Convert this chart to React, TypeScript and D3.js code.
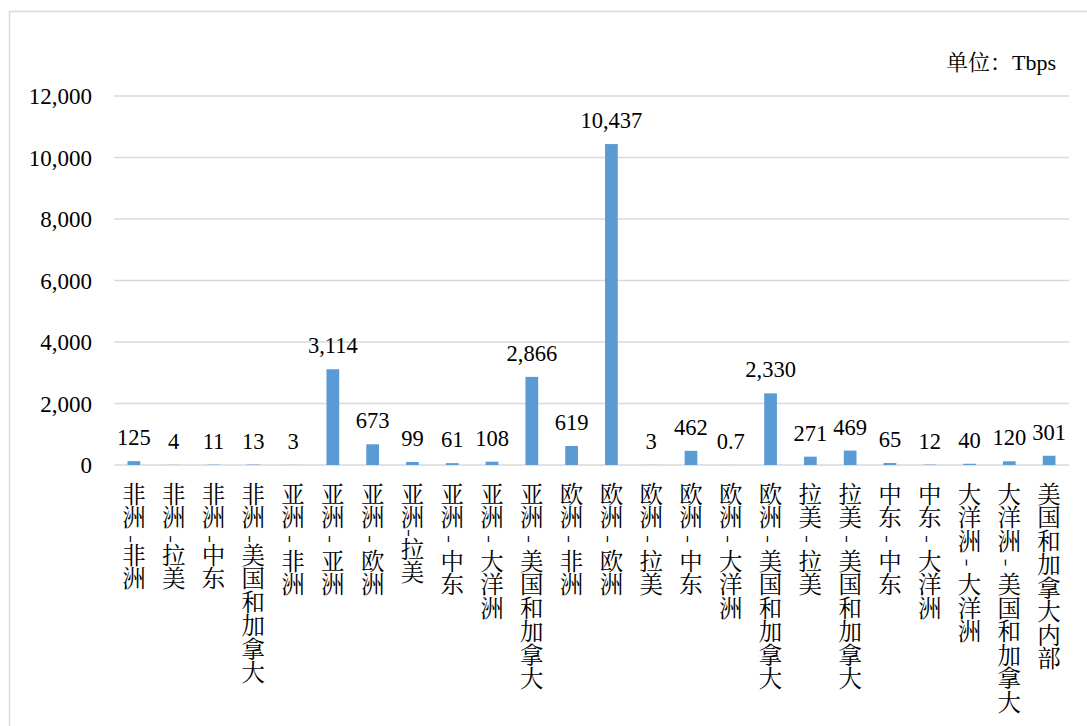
import React from "react";
import * as d3 from "d3";

const categories: string[] = [
  "非洲 -非洲", "非洲 -拉美", "非洲 -中东", "非洲 -美国和加拿大",
  "亚洲 - 非洲", "亚洲 - 亚洲", "亚洲 - 欧洲", "亚洲-拉美",
  "亚洲 - 中东", "亚洲 - 大洋洲", "亚洲 - 美国和加拿大", "欧洲 - 非洲",
  "欧洲 - 欧洲", "欧洲 - 拉美", "欧洲 - 中东", "欧洲 - 大洋洲",
  "欧洲 - 美国和加拿大", "拉美 - 拉美", "拉美 - 美国和加拿大", "中东 - 中东",
  "中东 - 大洋洲", "大洋洲 - 大洋洲", "大洋洲 - 美国和加拿大", "美国和加拿大内部",
];
const values: number[] = [
  125, 4, 11, 13, 3, 3114, 673, 99, 61, 108, 2866, 619,
  10437, 3, 462, 0.7, 2330, 271, 469, 65, 12, 40, 120, 301,
];
const valueLabels: string[] = [
  "125", "4", "11", "13", "3", "3,114", "673", "99", "61", "108", "2,866", "619",
  "10,437", "3", "462", "0.7", "2,330", "271", "469", "65", "12", "40", "120", "301",
];
const yTicks: number[] = [0, 2000, 4000, 6000, 8000, 10000, 12000];
const unitPrefix = "单位：";
const unitName = "Tbps";

const W = 1087;
const H = 726;
const left = 114;
const right = 1069;
const y0 = 465;
const yTop = 96;

const latin = "Liberation Serif";
const cjk = "Noto Serif CJK SC";

export default function App() {
  const x = d3.scaleBand<string>().domain(categories).range([left, right]).paddingInner(0.68).paddingOuter(0.34);
  const y = d3.scaleLinear().domain([0, 12000]).range([y0, yTop]);
  const fmt = d3.format(",");

  return (
    <svg width={W} height={H} fontFamily={latin} style={{ position: "absolute", left: 0, top: 0, background: "#fff", fontFamily: latin }}>
      <rect x={9.5} y={11.5} width={W + 10} height={H + 10} fill="#fff" stroke="#d9d9d9" strokeWidth={1.5} />
      {yTicks.map((t) => (
        <g key={t}>
          <line x1={left} x2={right} y1={y(t)} y2={y(t)} stroke="#d9d9d9" strokeWidth={1.5} />
          <text x={92} y={y(t) + 8} textAnchor="end" fontFamily={latin} style={{ fontFamily: latin, fontSize: 23 }}>
            {fmt(t)}
          </text>
        </g>
      ))}
      {categories.map((c, i) => {
        const cx = (x(c) as number) + x.bandwidth() / 2;
        const top = y(values[i]);
        return (
          <g key={c}>
            <rect x={x(c)} y={top} width={x.bandwidth()} height={y0 - top} fill="#5b9bd5" />
            <text x={cx} y={top - 16} textAnchor="middle" fontFamily={latin} style={{ fontFamily: latin, fontSize: 22.5 }}>
              {valueLabels[i]}
            </text>
            <text
              x={cx}
              y={482}
              fontFamily={cjk}
              style={{ fontFamily: cjk, fontSize: 23.5, writingMode: "vertical-rl", textOrientation: "mixed" } as any}
            >
              {c}
            </text>
          </g>
        );
      })}
      <text x={1056} y={70} textAnchor="end" style={{ fontSize: 22 }}>
        <tspan fontFamily={cjk} style={{ fontFamily: cjk }}>{unitPrefix}</tspan>
        <tspan fontFamily={latin} style={{ fontFamily: latin }}>{unitName}</tspan>
      </text>
    </svg>
  );
}
